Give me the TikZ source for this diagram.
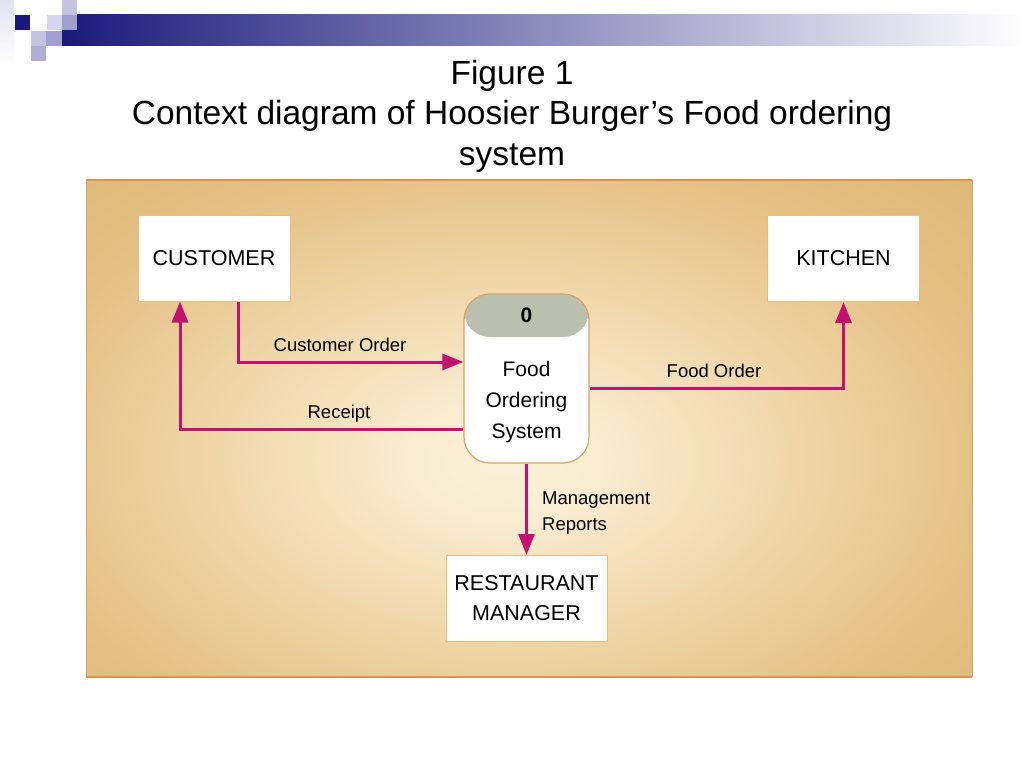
\documentclass[tikz,border=0pt]{standalone}
\usepackage{fontspec}
\setmainfont{Liberation Sans}
\usetikzlibrary{arrows.meta,calc}
\definecolor{flowc}{RGB}{196,18,112}
\definecolor{navyc}{RGB}{26,26,124}
\definecolor{lav1}{RGB}{214,214,236}
\definecolor{lav2}{RGB}{160,160,208}
\definecolor{lav3}{RGB}{196,196,226}
\definecolor{panelline}{RGB}{218,148,82}
\definecolor{paneledge}{RGB}{205,165,105}
\definecolor{boxline}{RGB}{236,190,120}
\definecolor{procline}{RGB}{214,164,100}
\definecolor{headc}{RGB}{187,192,174}
\pgfdeclareradialshading{panelshade}{\pgfpoint{0bp}{0bp}}{%
  rgb(0bp)=(0.984,0.945,0.850);
  rgb(5bp)=(0.975,0.925,0.815);
  rgb(15bp)=(0.940,0.840,0.660);
  rgb(25bp)=(0.895,0.755,0.520);
  rgb(35bp)=(0.870,0.715,0.470);
  rgb(72bp)=(0.860,0.700,0.455)}
\tikzset{
  ent/.style={draw=boxline, line width=1pt, fill=white, minimum width=152pt, minimum height=86pt,
    align=center, inner sep=0pt, font=\fontsize{21.5}{30}\selectfont},
  proc/.style={draw=procline, line width=1.2pt, fill=white, rounded corners=26pt,
    minimum width=125pt, minimum height=169pt, inner sep=0pt,
    path picture={\fill[headc] (path picture bounding box.north west) rectangle
      ([yshift=-43pt]path picture bounding box.north east);}},
  ptext/.style={align=center, inner sep=0pt, font=\fontsize{21}{31}\selectfont},
  pid/.style={inner sep=0pt, font=\fontsize{21}{25}\selectfont\bfseries},
  flow/.style={draw=flowc, line width=3pt, -{Triangle[length=21pt,width=16pt]}},
  lbl/.style={inner sep=0pt, font=\fontsize{18.5}{26}\selectfont},
  ttl/.style={align=center, inner sep=0pt, font=\fontsize{33.5}{40.5}\selectfont},
}
\begin{document}
\begin{tikzpicture}[x=1pt,y=-1pt]
\useasboundingbox (0,0) rectangle (1024,768);
\fill[white] (0,0) rectangle (1024,768);
% corner decoration
\shade[top color=lav1!70, bottom color=white] (0,0) rectangle (14,64);
\shade[left color=navyc, right color=white] (62,15) rectangle (1024,46);
\fill[navyc] (15,15) rectangle (30,30);
\fill[lav1] (47,15) rectangle (62,30);
\fill[lav3] (62,0) rectangle (77,15);
\fill[lav2] (62,15) rectangle (77,30);
\fill[lav3] (31,31) rectangle (46,46);
\fill[lav2] (46,31) rectangle (62,46);
\fill[lav2!85] (31,46) rectangle (46,61);
% title
\node[ttl] (title) at (512,116) {Figure 1\\Context diagram of Hoosier Burger’s Food ordering\\system};
% panel
\begin{scope}
  \clip (86,180) rectangle (972,677);
  \shade[shading=panelshade] (15,160) rectangle (995,760);
\end{scope}
\draw[paneledge, line width=0.8pt] (86,180) -- (86,677) (972,180) -- (972,677);
\draw[panelline, line width=2.5pt] (86,180) -- (972,180) (86,677) -- (972,677);
% entities
\node[ent] (cust) at (214,258) {CUSTOMER};
\node[ent] (kit) at (843.5,258.5) {KITCHEN};
\node[ent, minimum width=161pt] (rm) at (526.5,598.5) {RESTAURANT\\MANAGER};
% process
\node[proc] (p) at (526.5,378.5) {};
\node[pid] (pnum) at (526.5,315.5) {0};
\node[ptext] (pname) at (526.5,402.5) {Food\\Ordering\\System};
% flows
\coordinate (yco) at (0,362);
\coordinate (yrc) at (0,429);
\coordinate (yfo) at (0,388);
\draw[flow] ([xshift=24pt]cust.south) |- (yco -| p.west);
\draw[flow] (yrc -| p.west) -| ([xshift=-34pt]cust.south);
\draw[flow] (yfo -| p.east) -| (kit.south);
\draw[flow] (p.south) -- (rm.north);
% labels
\node[lbl, anchor=base] (lco) at (340,351) {Customer Order};
\node[lbl, anchor=base] (lrc) at (339,418) {Receipt};
\node[lbl, anchor=base] (lfo) at (714,377) {Food Order};
\node[lbl, anchor=west, align=left] (lmr) at (542,513) {Management\\Reports};
\end{tikzpicture}
\end{document}
